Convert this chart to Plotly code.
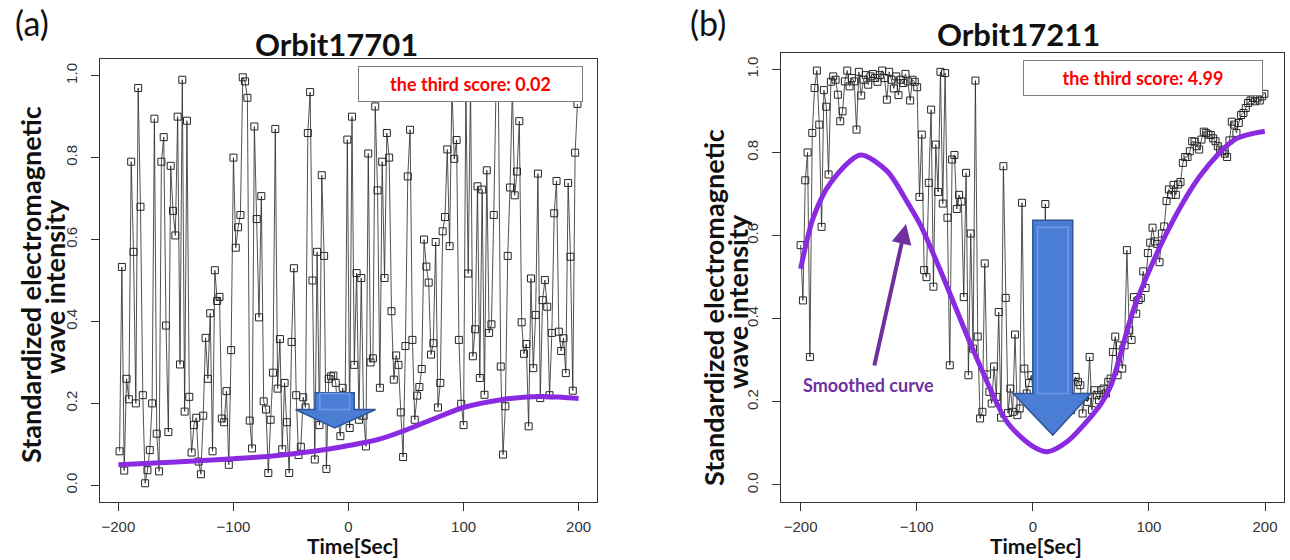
import numpy as np
import plotly.graph_objects as go

# ---------------- data ----------------
a_vals = [
    0.083, 0.533, 0.036, 0.26, 0.21, 0.79, 0.57, 0.20, 0.97, 0.68,
    0.22, 0.005, 0.037, 0.086, 0.20, 0.895, 0.126, 0.034, 0.79, 0.85,
    0.39, 0.13, 0.78, 0.67, 0.61, 0.90, 0.295, 0.99, 0.18, 0.89,
    0.216, 0.08, 0.147, 0.165, 0.058, 0.027, 0.17, 0.36, 0.26, 0.42,
    0.083, 0.525, 0.45, 0.46, 0.163, 0.154, 0.23, 0.05, 0.33, 0.80,
    0.58, 0.63, 0.66, 0.996, 0.986, 0.946, 0.158, 0.09, 0.876, 0.65,
    0.41, 0.706, 0.205, 0.185, 0.03, 0.16, 0.275,
    0.87, 0.236, 0.357, 0.088, 0.25, 0.154, 0.03, 0.35, 0.53, 0.22,
    0.074, 0.094, 0.215, 0.19, 0.86, 0.96, 0.50, 0.063, 0.57, 0.147,
    0.757, 0.56, 0.04, 0.26, 0.266, 0.268, 0.25, 0.16, 0.12, 0.238,
    0.17, 0.844, 0.14, 0.90, 0.294, 0.518, 0.16, 0.506, 0.17, 0.095,
    0.81, 0.30, 0.31, 0.925, 0.72, 0.238, 0.79, 0.506, 0.86, 0.80,
    0.425, 0.258, 0.317, 0.294, 0.178, 0.069, 0.34, 0.754, 0.868, 0.355,
    0.16, 0.219, 0.24, 0.284, 0.60, 0.534, 0.495, 0.319,
    0.347, 0.594, 0.19, 0.25, 0.62, 0.655, 0.82, 0.584, 0.97, 0.797,
    0.843, 0.355, 0.199, 0.147, 0.97, 0.517, 0.98, 0.315, 0.381, 0.73,
    0.262, 0.722, 0.221, 0.769, 0.372, 0.393, 0.66, 0.98, 0.96, 0.29,
    0.075, 0.193, 0.56, 0.727, 0.97, 0.708, 0.766, 0.889, 0.398, 0.321,
    0.345, 0.144, 0.505, 0.286, 0.416, 0.761, 0.213, 0.452, 0.501, 0.436,
    0.22, 0.372, 0.664, 0.743, 0.375, 0.328, 0.359, 0.274, 0.738, 0.558,
    0.231, 0.812, 0.931,
]
a_time = np.linspace(-199, 199, len(a_vals))

a_smooth_t = [-200, -150, -100, -68, -40, -18, 0, 26, 50, 72, 100, 133, 165, 185, 200]
a_smooth_v = [0.05, 0.057, 0.065, 0.071, 0.08, 0.088, 0.097, 0.112, 0.135, 0.16,
              0.19, 0.209, 0.217, 0.215, 0.212]

b_vals = [
    0.577, 0.444, 0.733, 0.80, 0.308, 0.847, 0.955, 0.997, 0.867, 0.621,
    0.95, 0.91, 0.747, 0.97, 0.983, 0.975, 0.939, 0.875, 0.899, 0.971,
    0.997, 0.959, 0.979, 0.971, 0.855, 0.994, 0.937, 0.975, 0.986, 0.963,
    0.983, 0.989, 0.979, 0.970, 0.986, 0.997, 0.979, 0.927, 0.994, 0.975,
    0.954, 0.983, 0.938, 0.975, 0.967, 0.989, 0.971, 0.925, 0.975, 0.970,
    0.957, 0.693, 0.843, 0.517, 0.50, 0.727, 0.903, 0.477, 0.819, 0.705,
    0.994, 0.677, 0.991, 0.643, 0.288, 0.783,
    0.794, 0.664, 0.698, 0.682, 0.452, 0.751, 0.264, 0.605, 0.328, 0.973,
    0.357, 0.16, 0.176, 0.533, 0.266, 0.224, 0.196, 0.285, 0.212, 0.416,
    0.162, 0.767, 0.45, 0.173, 0.232, 0.176, 0.362, 0.168, 0.184, 0.679,
    0.28, 0.22, 0.245, 0.264,
    0.21, 0.19, 0.23, 0.20, 0.25, 0.676, 0.22, 0.18, 0.21, 0.19,
    0.23, 0.20, 0.17, 0.21, 0.19, 0.22, 0.18, 0.20, 0.26,
    0.248, 0.24, 0.172, 0.212, 0.20, 0.308, 0.18, 0.228, 0.216, 0.204,
    0.228, 0.232, 0.22, 0.248, 0.256, 0.32,
    0.357, 0.264, 0.336, 0.28, 0.336, 0.565, 0.372, 0.349, 0.452, 0.412,
    0.445, 0.45, 0.514, 0.474, 0.558, 0.583, 0.619, 0.586, 0.58, 0.536,
    0.605, 0.622, 0.683, 0.711, 0.698, 0.722, 0.698, 0.723, 0.729, 0.775,
    0.789, 0.789, 0.803, 0.827, 0.826, 0.815, 0.807, 0.831, 0.85, 0.847,
    0.843, 0.842, 0.834, 0.827, 0.815, 0.807, 0.803, 0.797, 0.789, 0.829,
    0.874, 0.867, 0.847, 0.871, 0.89, 0.895, 0.907, 0.919, 0.925, 0.931,
    0.923, 0.93, 0.925, 0.935, 0.941,
]
b_time = np.linspace(-200, 199.5, len(b_vals))

b_smooth_t = [-200, -189, -174, -148.5, -125.5, -108, -96.7, -79.4, -50.6, -21.8,
              0, 12.7, 30, 50, 58.7, 67.4, 87.5, 116.3, 145, 173.8, 199.8]
b_smooth_v = [0.52, 0.644, 0.728, 0.794, 0.755, 0.68, 0.625, 0.515, 0.32, 0.15,
              0.093, 0.08, 0.105, 0.164, 0.195, 0.24, 0.428, 0.612, 0.747, 0.831, 0.851]

titles = ["Orbit17701", "Orbit17211"]
scores = ["the third score: 0.02", "the third score: 4.99"]
tick_vals_x = [-200, -100, 0, 100, 200]
tick_vals_y = [0.0, 0.2, 0.4, 0.6, 0.8, 1.0]
tick_text_y = ["0.0", "0.2", "0.4", "0.6", "0.8", "1.0"]

# ---------------- figure ----------------
W, H = 1290, 560
def px(x):
    return x / W
def py(y):
    return 1 - y / H

DATA_C = "#262626"
SMOOTH_C = "#8A2BE2"
LABEL_F = "Lato"
TICK_F = "Liberation Sans"

fig = go.Figure()

for i, (t, v, st, sv) in enumerate([(a_time, a_vals, a_smooth_t, a_smooth_v),
                                     (b_time, b_vals, b_smooth_t, b_smooth_v)]):
    xa = "x" if i == 0 else "x2"
    ya = "y" if i == 0 else "y2"
    fig.add_trace(go.Scatter(
        x=t, y=v, xaxis=xa, yaxis=ya, mode="lines+markers",
        line=dict(color=DATA_C, width=0.8),
        marker=dict(symbol="square-open", size=7, color=DATA_C, line=dict(width=1)),
        showlegend=False, hoverinfo="skip", cliponaxis=False))
    fig.add_trace(go.Scatter(
        x=st, y=sv, xaxis=xa, yaxis=ya, mode="lines",
        line=dict(color=SMOOTH_C, width=5, shape="spline", smoothing=0.8),
        showlegend=False, hoverinfo="skip"))

axis_common = dict(showgrid=False, zeroline=False, showline=True, mirror=True,
                   linecolor="#333333", linewidth=1, ticks="outside", ticklen=8,
                   tickcolor="#333333", automargin=False,
                   tickfont=dict(family=TICK_F, size=15, color="#333333"))

b_left, b_right = 780.7, 1283.6
b_scale = 1.161
b_c = 1032.8

fig.update_layout(
    template="none",
    width=W, height=H, margin=dict(l=0, r=0, t=0, b=0, pad=0),
    paper_bgcolor="white", plot_bgcolor="white",
    xaxis=dict(domain=[px(100), px(597)], range=[-216, 216], tickvals=tick_vals_x,
               anchor="y", ticklabelstandoff=3, **axis_common),
    yaxis=dict(domain=[py(501.7), py(59.3)], range=[-0.04, 1.04], tickvals=tick_vals_y,
               ticktext=tick_text_y, tickangle=-90, anchor="x", ticklabelstandoff=8,
               **axis_common),
    xaxis2=dict(domain=[px(b_left), px(b_right)],
                range=[(b_left - b_c) / b_scale, (b_right - b_c) / b_scale],
                tickvals=tick_vals_x, anchor="y2", ticklabelstandoff=3, **axis_common),
    yaxis2=dict(domain=[py(501.6), py(52.7)], range=[-0.04, 1.04], tickvals=tick_vals_y,
                ticktext=tick_text_y, tickangle=-90, anchor="x2", ticklabelstandoff=8,
                **axis_common),
)

ann = []
# panel letters
ann.append(dict(x=px(32), y=py(23), text="(a)", font=dict(family=LABEL_F, size=34, color="#111")))
ann.append(dict(x=px(708), y=py(23), text="(b)", font=dict(family=LABEL_F, size=34, color="#111")))
# titles
ann.append(dict(x=px(336), y=py(44), text="<b>" + titles[0] + "</b>",
                font=dict(family=LABEL_F, size=31, color="#111")))
ann.append(dict(x=px(1018), y=py(34), text="<b>" + titles[1] + "</b>",
                font=dict(family=LABEL_F, size=31, color="#111")))
# x titles
for cx in (353, 1036):
    ann.append(dict(x=px(cx), y=0, yanchor="bottom", text="<b>Time[Sec]</b>",
                    font=dict(family=LABEL_F, size=21, color="#111")))
# y titles
for (x1, x2, cy1, cy2) in ((30, 54, 285, 287), (713, 737, 308, 302)):
    ann.append(dict(x=px(x1), y=py(cy1), text="<b>Standardized electromagnetic</b>",
                    textangle=-90, font=dict(family=LABEL_F, size=27, color="#111")))
    ann.append(dict(x=px(x2), y=py(cy2), text="<b>wave intensity</b>",
                    textangle=-90, font=dict(family=LABEL_F, size=27, color="#111")))
# score boxes
ann.append(dict(x=px(470.5), y=py(84), text="<b>" + scores[0] + "</b>",
                width=221, height=32, bgcolor="white", bordercolor="#808080", borderwidth=1,
                font=dict(family=LABEL_F, size=18, color="#FF0000")))
ann.append(dict(x=px(1143), y=py(78), text="<b>" + scores[1] + "</b>",
                width=236, height=32, bgcolor="white", bordercolor="#808080", borderwidth=1,
                font=dict(family=LABEL_F, size=18, color="#FF0000")))
# smoothed curve label and arrow
ann.append(dict(x=px(868), y=py(385), text="<b>Smoothed curve</b>",
                font=dict(family=LABEL_F, size=18, color="#7030A0")))
ann.append(dict(x=px(906), y=py(224), ax=-32, ay=143, text="", showarrow=True,
                arrowhead=2, arrowsize=1.0, arrowwidth=4, arrowcolor="#7030A0"))

for a in ann:
    a.setdefault("xref", "paper")
    a.setdefault("yref", "paper")
    a.setdefault("showarrow", False)
    a.setdefault("xanchor", "center")
    a.setdefault("yanchor", "middle")
fig.update_layout(annotations=ann)

# blue block arrows (decorations) in data units of each panel
def block_arrow(xl, xr, ytop, hl, hr, ybase, tipy):
    tx = (xl + xr) / 2
    return (f"M {xl},{ytop} L {xr},{ytop} L {xr},{ybase} L {hr},{ybase} "
            f"L {tx},{tipy} L {hl},{ybase} L {xl},{ybase} Z")

arrow_a = dict(xl=-29, xr=5, ytop=0.226, hl=-46, hr=23.5, ybase=0.185, tipy=0.14)
arrow_b = dict(xl=0, xr=34.4, ytop=0.637, hl=-17, hr=50, ybase=0.22, tipy=0.12)

shapes = []
for xr_, yr_, ar in (("x", "y", arrow_a), ("x2", "y2", arrow_b)):
    shapes.append(dict(type="path", xref=xr_, yref=yr_, layer="above",
                       path=block_arrow(**ar), fillcolor="#4A7DD4",
                       line=dict(color="#2F5597", width=1.5)))
    dx = (ar["xr"] - ar["xl"]) * 0.12
    shapes.append(dict(type="rect", xref=xr_, yref=yr_, layer="above",
                       x0=ar["xl"] + dx, x1=ar["xr"] - dx,
                       y0=ar["ybase"], y1=ar["ytop"] - (ar["ytop"] - ar["ybase"]) * 0.04,
                       fillcolor="rgba(0,0,0,0)", line=dict(color="#6F9BE6", width=1.5)))
fig.update_layout(shapes=shapes)

# remove the default page margin so the 1290x560 figure fills the window exactly
fig.write_html("out.html", config={"displayModeBar": False},
               post_script="document.body.style.margin='0px';document.body.style.overflow='hidden';")
